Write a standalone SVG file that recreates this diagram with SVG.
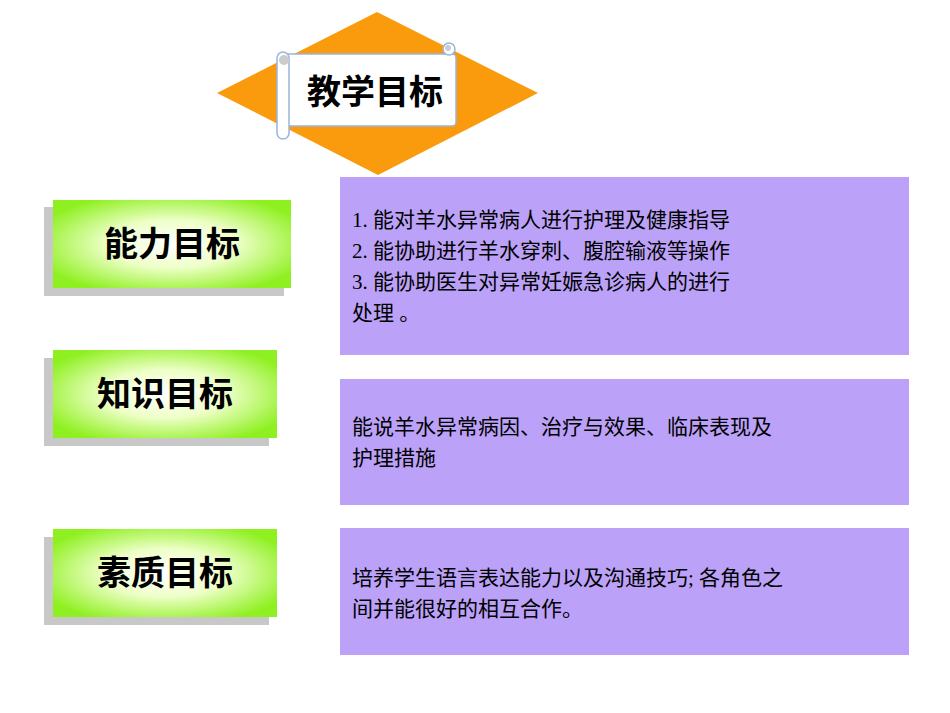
<svg xmlns="http://www.w3.org/2000/svg" width="950" height="713" viewBox="0 0 950 713">
<defs>
<radialGradient id="g" cx="50%" cy="50%" r="60%"><stop offset="0" stop-color="#ffffff"/><stop offset="0.45" stop-color="#eeffc8"/><stop offset="1" stop-color="#8ef020"/></radialGradient>
<style>
.sh{fill:#c8c8c8}
.gb{fill:url(#g)}
.pb{fill:#bba2f8}
.t{font-family:"Liberation Serif","Noto Sans CJK SC",serif;font-size:34px;font-weight:bold;fill:#000}
.p{font-family:"Liberation Serif","Noto Sans CJK SC",serif;font-size:21px;fill:#000}
</style>
</defs>
<rect width="950" height="713" fill="#fff"/>
<g id="title">
<polygon points="217,93 377,12 538,93 378,175" fill="#f99b0c"/>
<rect x="283" y="54" width="173" height="72" rx="4" fill="#fff" stroke="#9ab4dc" stroke-width="1.5"/>
<rect x="277" y="52" width="12" height="87" rx="6" fill="#fff" stroke="#9ab4dc" stroke-width="1.5"/>
<circle cx="284" cy="60" r="5" fill="#ccc"/>
<circle cx="449" cy="49" r="6" fill="#fff" stroke="#9ab4dc" stroke-width="1.5"/>
<circle cx="448" cy="48" r="3" fill="#ccc"/>
<text class="t" x="375" y="104" text-anchor="middle">教学目标</text>
</g>
<g id="n1">
<rect class="sh" x="44" y="207" width="240" height="89"/>
<rect class="gb" x="53" y="200" width="238" height="88"/>
<text class="t" x="172" y="256" text-anchor="middle">能力目标</text>
</g>
<g id="n2">
<rect class="sh" x="44" y="358" width="225" height="88"/>
<rect class="gb" x="53" y="350" width="224" height="88"/>
<text class="t" x="165" y="406" text-anchor="middle">知识目标</text>
</g>
<g id="n3">
<rect class="sh" x="44" y="537" width="225" height="88"/>
<rect class="gb" x="53" y="529" width="224" height="88"/>
<text class="t" x="165" y="585" text-anchor="middle">素质目标</text>
</g>
<g id="d1">
<rect class="pb" x="340" y="177" width="569" height="178"/>
<text class="p" x="352" y="227">1. 能对羊水异常病人进行护理及健康指导</text>
<text class="p" x="352" y="258">2. 能协助进行羊水穿刺、腹腔输液等操作</text>
<text class="p" x="352" y="289">3. 能协助医生对异常妊娠急诊病人的进行</text>
<text class="p" x="352" y="320">处理 。</text>
</g>
<g id="d2">
<rect class="pb" x="340" y="379" width="569" height="126"/>
<text class="p" x="352" y="434">能说羊水异常病因、治疗与效果、临床表现及</text>
<text class="p" x="352" y="465">护理措施</text>
</g>
<g id="d3">
<rect class="pb" x="340" y="528" width="569" height="127"/>
<text class="p" x="352" y="585">培养学生语言表达能力以及沟通技巧; 各角色之</text>
<text class="p" x="352" y="616">间并能很好的相互合作。</text>
</g>
<g id="connectors"/>
</svg>
